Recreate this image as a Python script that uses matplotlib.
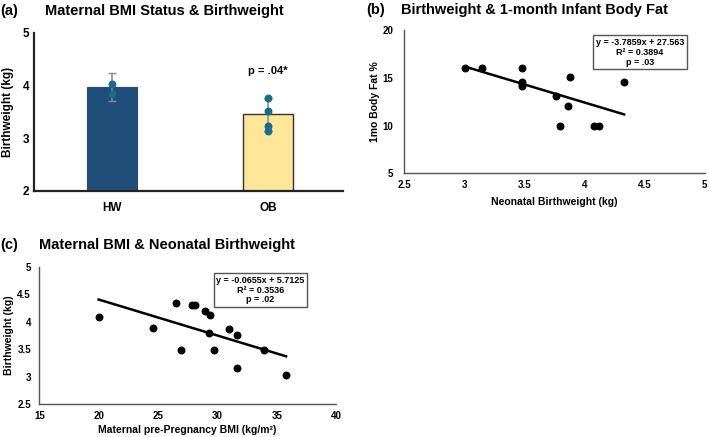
import matplotlib
matplotlib.use("Agg")
import matplotlib.pyplot as plt
import numpy as np

plt.rcParams['font.family'] = ['Liberation Sans', 'DejaVu Sans']
plt.rcParams['font.weight'] = 'bold'

# ---- Panel (a) data ----
groups = ["HW", "OB"]
group_means = [3.97, 3.455]
group_sd = [0.27, 0.31]
hw_points = [4.04, 3.85]
ob_points = [3.77, 3.52, 3.24, 3.13]
a_yticks = [2, 3, 4, 5]

# ---- Panel (b) data ----
bw_b = [3.01, 3.15, 3.48, 3.48, 3.48, 3.48, 3.76, 3.88, 3.86, 3.80, 4.08, 4.12, 4.33]
fat_b = [16.0, 16.0, 16.0, 14.6, 14.4, 14.1, 13.1, 15.1, 12.1, 10.0, 10.0, 10.0, 14.6]
b_slope, b_intercept = -3.7859, 27.563
b_text = ["y = -3.7859x + 27.563", "R\u00b2 = 0.3894", "p = .03"]
b_xticks = [2.5, 3, 3.5, 4, 4.5, 5]
b_yticks = [5, 10, 15, 20]

# ---- Panel (c) data ----
bmi_c = [20.0, 24.55, 26.52, 26.94, 27.84, 28.12, 28.93, 29.38, 29.27, 29.69, 30.98, 31.63, 31.63, 33.96, 35.79]
bw_c = [4.08, 3.88, 4.33, 3.49, 4.30, 4.30, 4.20, 4.12, 3.80, 3.49, 3.87, 3.76, 3.16, 3.49, 3.02]
c_slope, c_intercept = -0.0655, 5.7125
c_text = ["y = -0.0655x + 5.7125", "R\u00b2 = 0.3536", "p = .02"]
c_xticks = [15, 20, 25, 30, 35, 40]
c_yticks = [2.5, 3, 3.5, 4, 4.5, 5]

fig = plt.figure(figsize=(7.09, 4.37), dpi=100)

def style(ax, spine_color, lw):
    for s in ['top', 'right']:
        ax.spines[s].set_visible(False)
    for s in ['left', 'bottom']:
        ax.spines[s].set_color(spine_color)
        ax.spines[s].set_linewidth(lw)
    ax.tick_params(length=0)

def fmt(v):
    return ("%g" % v)

def place_labels(ax, xlab_y=None, ylab_x=None):
    if xlab_y is not None:
        ax.xaxis.set_label_coords(0.5, xlab_y)
        ax.xaxis.label.set_va('center')
    if ylab_x is not None:
        ax.yaxis.set_label_coords(ylab_x, 0.5)
        ax.yaxis.label.set_va('center')

# ---- (a) ----
axa = fig.add_axes([0.048, 0.563, 0.436, 0.3615])
style(axa, '#222222', 1.6)
xpos = np.arange(len(groups))
axa.bar(xpos, group_means, width=0.32, color=['#1f4e79', '#ffe699'],
        edgecolor=['#1f4e79', '#333333'], linewidth=[0.8, 1.0], zorder=2)
axa.errorbar(xpos, group_means, yerr=group_sd, fmt='none', ecolor='#8a8a8a',
             elinewidth=1.2, capsize=3, zorder=3)
axa.scatter([0] * len(hw_points), hw_points, s=22, color='#1a6a8c', zorder=4)
axa.scatter([1] * len(ob_points), ob_points, s=22, color='#1a6a8c', zorder=4)
axa.set_xlim(-0.5, 1.48)
axa.set_ylim(2, 5)
axa.set_yticks(a_yticks)
axa.set_yticklabels([fmt(v) for v in a_yticks], fontsize=8.5, fontweight='bold')
axa.set_xticks(xpos)
axa.set_xticklabels(groups, fontsize=8.5, fontweight='bold')
axa.tick_params(axis='x', pad=8)
axa.set_ylabel("Birthweight (kg)", fontsize=8.5, fontweight='bold')
place_labels(axa, ylab_x=-0.084)
axa.text(1, 4.28, "p = .04*", ha='center', va='center', fontsize=8, fontweight='bold')
fig.text(0.0, 0.975, "(a)", fontsize=10.5, fontweight='bold', va='center', ha='left')
fig.text(0.064, 0.975, "Maternal BMI Status & Birthweight", fontsize=10.5,
         fontweight='bold', va='center', ha='left')

# ---- (b) ----
axb = fig.add_axes([0.570, 0.6034, 0.424, 0.3276])
style(axb, '#555555', 1.0)
axb.scatter(bw_b, fat_b, s=22, color='black', zorder=3)
xl = np.array([min(bw_b), max(bw_b)])
axb.plot(xl, b_slope * xl + b_intercept, color='black', lw=1.8, zorder=2)
axb.set_xlim(2.5, 5)
axb.set_ylim(5, 20)
axb.set_xticks(b_xticks)
axb.set_xticklabels([fmt(v) for v in b_xticks], fontsize=7, fontweight='bold')
axb.set_yticks(b_yticks)
axb.set_yticklabels([fmt(v) for v in b_yticks], fontsize=7, fontweight='bold')
axb.tick_params(axis='x', pad=5)
axb.tick_params(axis='y', pad=8)
axb.set_xlabel("Neonatal Birthweight (kg)", fontsize=7.5, fontweight='bold')
axb.set_ylabel("1mo Body Fat %", fontsize=7.5, fontweight='bold')
place_labels(axb, xlab_y=-0.198, ylab_x=-0.096)
axb.text(0.785, 0.845, "\n".join(b_text), transform=axb.transAxes, ha='center', va='center',
         fontsize=6.5, fontweight='bold', linespacing=1.1,
         bbox=dict(boxstyle='square,pad=0.3', facecolor='white', edgecolor='#555555', lw=1.0))
fig.text(0.517, 0.977, "(b)", fontsize=10.5, fontweight='bold', va='center', ha='left')
fig.text(0.565, 0.977, "Birthweight & 1-month Infant Body Fat", fontsize=10.5,
         fontweight='bold', va='center', ha='left')

# ---- (c) ----
axc = fig.add_axes([0.0554, 0.0755, 0.4186, 0.3142])
style(axc, '#555555', 1.0)
axc.scatter(bmi_c, bw_c, s=22, color='black', zorder=3)
xl = np.array([min(bmi_c), max(bmi_c)])
axc.plot(xl, c_slope * xl + c_intercept, color='black', lw=1.8, zorder=2)
axc.set_xlim(15, 40)
axc.set_ylim(2.5, 5)
axc.set_xticks(c_xticks)
axc.set_xticklabels([fmt(v) for v in c_xticks], fontsize=7, fontweight='bold')
axc.set_yticks(c_yticks)
axc.set_yticklabels([fmt(v) for v in c_yticks], fontsize=7, fontweight='bold')
axc.tick_params(axis='x', pad=5)
axc.tick_params(axis='y', pad=6)
axc.set_xlabel("Maternal pre-Pregnancy BMI (kg/m\u00b2)", fontsize=7.5, fontweight='bold')
axc.set_ylabel("Birthweight (kg)", fontsize=7.5, fontweight='bold')
place_labels(axc, xlab_y=-0.19, ylab_x=-0.103)
axc.text(0.745, 0.83, "\n".join(c_text), transform=axc.transAxes, ha='center', va='center',
         fontsize=6.5, fontweight='bold', linespacing=1.1,
         bbox=dict(boxstyle='square,pad=0.3', facecolor='white', edgecolor='#555555', lw=1.0))
fig.text(0.0, 0.44, "(c)", fontsize=10.5, fontweight='bold', va='center', ha='left')
fig.text(0.0554, 0.44, "Maternal BMI & Neonatal Birthweight", fontsize=10.5,
         fontweight='bold', va='center', ha='left')

fig.savefig("out.png", dpi=100)
